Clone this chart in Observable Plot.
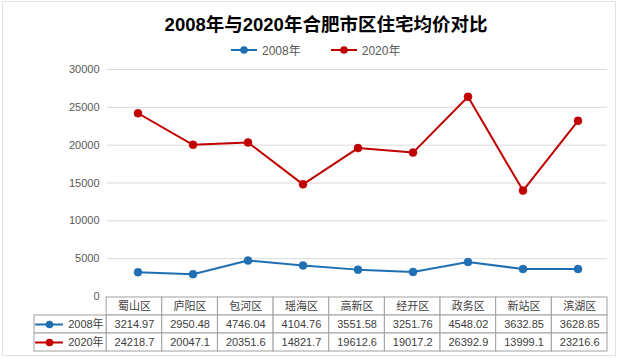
<!DOCTYPE html>
<html>
<head>
<meta charset="utf-8">
<script src="https://cdn.jsdelivr.net/npm/d3@7"></script>
<script src="https://cdn.jsdelivr.net/npm/@observablehq/plot@0.6"></script>
<style>
  html, body { margin: 0; padding: 0; background: #fff; }
  #wrap { position: relative; width: 622px; height: 359px; overflow: hidden; background: #fff;
          font-family: "Liberation Sans", Arial, "Noto Sans CJK SC", sans-serif; color: #595959; }
  #frame { position: absolute; left: 2px; top: 1px; width: 612px; height: 353px; border: 1px solid #e2e2e2; }
  #title { position: absolute; left: 0; width: 652px; top: 10px; text-align: center;
           font-family: "Liberation Sans", Arial, "Noto Sans CJK SC", sans-serif; font-weight: bold; font-size: 18.5px; color: #000; }
  #legend { position: absolute; top: 41px; left: 231px; font-size: 12px; color: #595959; display: flex; align-items: center; }
  #legend .item { display: flex; align-items: center; margin-right: 30px; }
  #legend svg { margin-right: 3px; }
  .abs { position: absolute; left: 0; }
</style>
</head>
<body>
<div id="wrap">
  <div id="frame"></div>
  <div id="title">2008年与2020年合肥市区住宅均价对比</div>
  <div id="legend"></div>
  <div id="table" class="abs" style="top:296px"></div>
  <div id="chart" class="abs" style="top:58px"></div>
</div>
<script>
// ---- data ----
const districts = ["蜀山区", "庐阳区", "包河区", "瑶海区", "高新区", "经开区", "政务区", "新站区", "滨湖区"];
const seriesNames = ["2008年", "2020年"];
const price2008 = [3214.97, 2950.48, 4746.04, 4104.76, 3551.58, 3251.76, 4548.02, 3632.85, 3628.85];
const price2020 = [24218.7, 20047.1, 20351.6, 14821.7, 19612.6, 19017.2, 26392.9, 13999.1, 23216.6];
const yTicks = [0, 5000, 10000, 15000, 20000, 25000, 30000];
const colors = ["#1f6fb2", "#c00000"];

const seriesValues = [price2008, price2020];
const long = [];
seriesNames.forEach((s, k) => districts.forEach((d, i) => long.push({series: s, district: d, i, value: seriesValues[k][i]})));

const font = `"Liberation Sans", Arial, "Noto Sans CJK SC", sans-serif`;

// ---- legend ----
const legend = document.getElementById("legend");
seriesNames.forEach((s, k) => {
  const item = document.createElement("div");
  item.className = "item";
  item.innerHTML = `<svg width="28" height="10"><line x1="0" y1="5" x2="26" y2="5" stroke="${colors[k]}" stroke-width="2"/><circle cx="13" cy="5" r="3.8" fill="${colors[k]}"/></svg><span>${s}</span>`;
  legend.appendChild(item);
});

// ---- main line chart ----
const chart = Plot.plot({
  width: 622,
  height: 250,
  marginLeft: 107,
  marginRight: 15,
  marginTop: 11,
  marginBottom: 12,
  style: {background: "transparent", overflow: "visible", fontFamily: font, fontSize: "11px", color: "#595959"},
  x: {type: "band", domain: districts, padding: 0, axis: null},
  y: {domain: [0, 30000], ticks: yTicks, tickSize: 0, tickPadding: 8, label: null, tickFormat: d => String(d)},
  color: {domain: seriesNames, range: colors},
  marks: [
    Plot.ruleY(yTicks.filter(t => t > 0), {stroke: "#d9d9d9", strokeWidth: 1}),
    Plot.line(long, {x: "district", y: "value", z: "series", stroke: "series", strokeWidth: 2}),
    Plot.dot(long, {x: "district", y: "value", fill: "series", r: 4, stroke: "series", strokeWidth: 0.5})
  ]
});
document.getElementById("chart").appendChild(chart);

// ---- data table ----
const rows = ["hdr", ...seriesNames];
const labelW = 72 / (500 / 9);
const cells = [];
districts.forEach((d, i) => {
  cells.push({row: "hdr", i, text: d});
  cells.push({row: "2008年", i, text: String(price2008[i])});
  cells.push({row: "2020年", i, text: String(price2020[i])});
});
const labelCells = seriesNames.map((s, k) => ({row: s, k}));

const table = Plot.plot({
  width: 622,
  height: 56,
  marginLeft: 34,
  marginRight: 15,
  marginTop: 1,
  marginBottom: 1,
  style: {background: "transparent", overflow: "visible", fontFamily: font, fontSize: "11px", color: "#595959"},
  x: {type: "linear", domain: [-labelW, 9], axis: null},
  y: {type: "band", domain: rows, padding: 0, axis: null},
  marks: [
    Plot.barX(cells, {x1: d => d.i, x2: d => d.i + 1, y: "row", fill: "white", stroke: "#a0a0a0", strokeWidth: 1, inset: 0}),
    Plot.barX(labelCells, {x1: -labelW, x2: 0, y: "row", fill: "white", stroke: "#a0a0a0", strokeWidth: 1, inset: 0}),
    Plot.text(cells, {x: d => d.i + 0.5, y: "row", text: "text", fill: "#404040", fontSize: 11}),
    Plot.text(labelCells, {x: 0, y: "row", text: "row", textAnchor: "end", dx: -3, fill: "#404040", fontSize: 11}),
    Plot.ruleY(labelCells, {y: "row", x1: -labelW + 0.02, x2: -labelW + 0.52, stroke: (d) => colors[d.k], strokeWidth: 2}),
    Plot.dot(labelCells, {y: "row", x: -labelW + 0.27, fill: (d) => colors[d.k], r: 3.8, stroke: "none"})
  ]
});
document.getElementById("table").appendChild(table);
</script>
</body>
</html>
